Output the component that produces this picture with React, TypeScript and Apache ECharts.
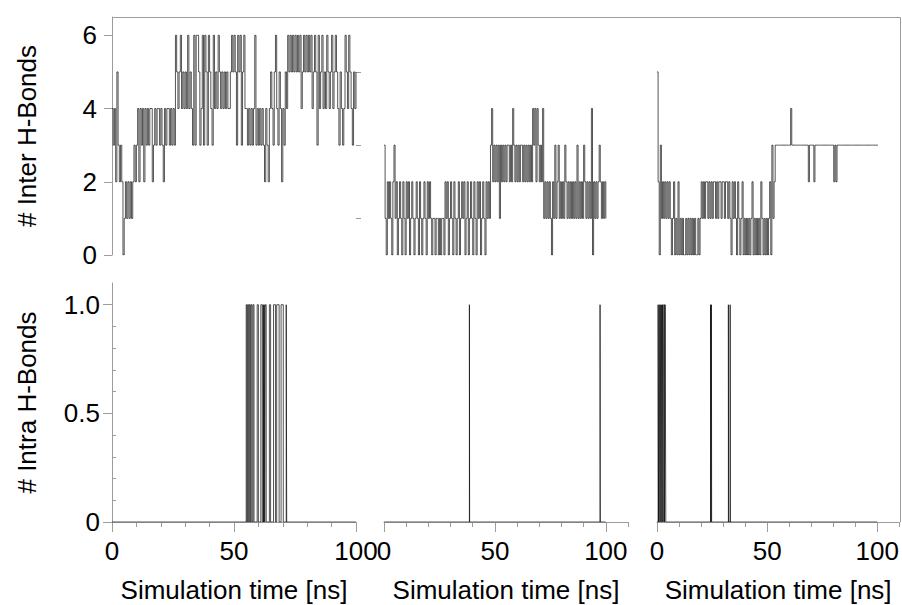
import React, { useEffect, useRef } from 'react';
import * as echarts from 'echarts';

// ---- Data ----
const SAMPLE_STEP_NS = 0.5;

// Inter-molecular H-bond counts, one value every 0.5 ns (0..100 ns)
const INTER_A = [
  4, 3, 4, 2, 5, 3, 2, 3, 2, 0,
  1, 2, 1, 2, 1, 2, 1, 2, 3, 2,
  3, 4, 2, 4, 3, 4, 2, 4, 3, 4,
  3, 4, 4, 2, 3, 4, 3, 4, 4, 3,
  4, 3, 2, 4, 3, 4, 4, 3, 4, 3,
  4, 3, 6, 5, 4, 5, 6, 4, 5, 4,
  5, 4, 6, 4, 5, 4, 3, 6, 3, 6,
  6, 5, 3, 4, 6, 3, 6, 5, 3, 6,
  5, 4, 3, 6, 4, 5, 4, 6, 5, 4,
  5, 4, 5, 4, 5, 4, 4, 5, 6, 5,
  6, 5, 3, 6, 5, 6, 3, 5, 6, 4,
  4, 3, 4, 3, 4, 3, 4, 6, 3, 4,
  3, 4, 3, 4, 3, 2, 4, 3, 2, 4,
  5, 4, 3, 5, 6, 4, 3, 5, 4, 2,
  4, 3, 5, 4, 6, 5, 6, 5, 6, 5,
  6, 5, 6, 5, 6, 4, 5, 6, 5, 6,
  5, 6, 5, 6, 4, 5, 6, 5, 3, 6,
  4, 5, 6, 4, 5, 4, 6, 5, 4, 5,
  6, 4, 5, 6, 5, 4, 3, 5, 4, 3,
  4, 6, 5, 4, 6, 5, 4, 3, 5, 4,
  5,
];

const INTER_B = [
  3, 1, 0, 2, 1, 2, 1, 0, 2, 3,
  1, 2, 0, 1, 2, 1, 0, 2, 1, 0,
  2, 1, 2, 0, 1, 2, 1, 0, 1, 2,
  1, 0, 2, 1, 0, 1, 2, 1, 0, 2,
  1, 2, 1, 0, 1, 1, 0, 1, 1, 0,
  1, 0, 1, 1, 0, 2, 1, 2, 0, 1,
  2, 1, 0, 2, 1, 0, 1, 2, 0, 1,
  2, 1, 2, 0, 1, 2, 0, 1, 2, 1,
  0, 2, 1, 0, 2, 1, 2, 0, 1, 2,
  1, 0, 2, 1, 2, 1, 3, 4, 2, 3,
  2, 3, 2, 3, 1, 3, 2, 3, 2, 3,
  2, 3, 3, 2, 3, 2, 4, 3, 2, 3,
  2, 3, 2, 3, 3, 2, 3, 2, 3, 2,
  3, 2, 3, 2, 4, 3, 4, 2, 4, 3,
  2, 3, 2, 4, 1, 2, 1, 2, 1, 2,
  1, 0, 2, 1, 3, 1, 2, 3, 1, 2,
  1, 2, 1, 3, 2, 1, 2, 1, 2, 1,
  2, 1, 2, 1, 3, 1, 2, 1, 2, 1,
  3, 2, 1, 2, 1, 2, 1, 4, 0, 2,
  1, 2, 1, 2, 3, 2, 1, 2, 1, 2,
  1,
];

const INTER_C = [
  5, 2, 0, 3, 1, 2, 1, 2, 1, 2,
  1, 2, 1, 0, 1, 2, 0, 1, 0, 2,
  0, 1, 0, 1, 0, 0, 1, 0, 1, 0,
  1, 0, 1, 0, 1, 0, 0, 1, 0, 1,
  2, 1, 2, 1, 2, 2, 1, 2, 1, 2,
  1, 2, 2, 1, 2, 1, 2, 2, 1, 2,
  2, 1, 2, 2, 1, 2, 1, 0, 2, 1,
  2, 1, 0, 2, 1, 0, 1, 2, 0, 1,
  0, 1, 0, 1, 0, 1, 2, 0, 1, 0,
  1, 0, 1, 0, 2, 1, 0, 1, 0, 1,
  0, 1, 2, 0, 3, 1, 2, 3, 3, 3,
  3, 3, 3, 3, 3, 3, 3, 3, 3, 3,
  3, 4, 3, 3, 3, 3, 3, 3, 3, 3,
  3, 3, 3, 3, 3, 3, 3, 2, 3, 3,
  3, 3, 2, 3, 3, 3, 3, 3, 3, 3,
  3, 3, 3, 3, 3, 3, 3, 3, 3, 3,
  2, 3, 2, 3, 3, 3, 3, 3, 3, 3,
  3, 3, 3, 3, 3, 3, 3, 3, 3, 3,
  3, 3, 3, 3, 3, 3, 3, 3, 3, 3,
  3, 3, 3, 3, 3, 3, 3, 3, 3, 3,
  3,
];

// Intra-molecular H-bonds: change times (ns) and the value held from that time
const INTRA_A_T = [0, 55.0, 55.3, 55.6, 56.0, 56.3, 56.7, 57.0, 57.4, 57.8, 58.2, 59.5, 60.0, 61.0, 61.6, 62.0, 62.2, 62.4, 62.6, 62.8, 63.2, 64.5, 65.0, 66.2, 67.0, 67.5, 68.5, 69.3, 70.2, 71.4, 71.6, 100];
const INTRA_A_V = [0, 1, 0, 1, 0, 1, 0, 1, 0, 1, 0, 1, 0, 1, 0, 1, 0, 1, 0, 1, 0, 1, 0, 1, 0, 1, 0, 1, 0, 1, 0, 0];
const INTRA_B_T = [0, 38.5, 38.6, 97.4, 97.5, 100];
const INTRA_B_V = [0, 1, 0, 1, 0, 0];
const INTRA_C_T = [0, 0.5, 0.7, 1.0, 1.3, 1.5, 1.8, 2.0, 2.3, 2.5, 2.8, 3.0, 3.4, 3.7, 4.0, 24.3, 24.5, 24.7, 24.8, 32.4, 32.5, 33.2, 33.3, 100];
const INTRA_C_V = [0, 1, 0, 1, 0, 1, 0, 1, 0, 1, 0, 1, 0, 1, 0, 1, 0, 1, 0, 1, 0, 1, 0, 0];

// Ticks / labels
const X_MAJOR_TICKS = [0, 50, 100];
const X_MINOR_TICKS = [10, 20, 30, 40, 60, 70, 80, 90];
const X_MINOR_TICKS_WIDE = [10, 20, 30, 40, 60, 70, 80, 90, 110];
const Y_INTER_MAJOR = [0, 2, 4, 6];
const Y_INTER_MINOR = [1, 3, 5];
const Y_INTRA_MAJOR = [0, 0.5, 1];
const Y_INTRA_MINOR = [0.1, 0.2, 0.3, 0.4, 0.6, 0.7, 0.8, 0.9];
const X_NAME = 'Simulation time [ns]';
const Y_INTER_NAME = '# Inter H-Bonds';
const Y_INTRA_NAME = '# Intra H-Bonds';

// ---- Styling ----
const AXIS_COLOR = '#9c9c9c';
const FONT = '"Liberation Sans", Arial, Helvetica, sans-serif';
const FS = 26;
const LINE_STYLE = { color: '#000', width: 0.9, opacity: 0.75 };

const textStyle = { color: '#000', fontSize: FS, fontFamily: FONT };

function hiddenX(gridIndex: number, max: number) {
  return { type: 'value', gridIndex, min: 0, max, show: false };
}
function hiddenY(gridIndex: number, max: number) {
  return { type: 'value', gridIndex, min: 0, max, show: false };
}
function xMinor(gridIndex: number, max: number, ticks: number[]) {
  return {
    type: 'value', gridIndex, min: 0, max, position: 'bottom',
    axisLine: { show: true, lineStyle: { color: AXIS_COLOR, width: 1 } },
    axisTick: { show: true, length: 5, customValues: ticks, lineStyle: { color: AXIS_COLOR } },
    axisLabel: { show: false },
    splitLine: { show: false },
  };
}
function xMajor(gridIndex: number, max: number) {
  return {
    type: 'value', gridIndex, min: 0, max, position: 'bottom',
    axisLine: { show: false },
    axisTick: { show: true, length: 10, customValues: X_MAJOR_TICKS, lineStyle: { color: AXIS_COLOR } },
    axisLabel: { show: true, customValues: X_MAJOR_TICKS, margin: 16, ...textStyle },
    splitLine: { show: false },
    name: X_NAME, nameLocation: 'middle', nameGap: 55,
    nameTextStyle: { ...textStyle },
  };
}

export default function App() {
  const ref = useRef<HTMLDivElement>(null);

  useEffect(() => {
    if (!ref.current) return;
    const chart = echarts.init(ref.current, null, { renderer: 'svg' });

    const interData = (arr: number[]) => arr.map((v, i) => [i * SAMPLE_STEP_NS, v]);
    const intraData = (t: number[], v: number[]) => t.map((x, i) => [x, v[i]]);

    const lineSeries = (xAxisIndex: number, yAxisIndex: number, data: number[][]) => ({
      type: 'line', xAxisIndex, yAxisIndex, data, step: 'end',
      showSymbol: false, symbol: 'none', lineStyle: LINE_STYLE, silent: true,
    });

    const option: any = {
      animation: false,
      backgroundColor: '#fff',
      grid: [
        { left: 112, top: 17, width: 244, height: 238 },
        { left: 384, top: 17, width: 244, height: 238 },
        { left: 657, top: 17, width: 243, height: 238 },
        { left: 112, top: 283, width: 244, height: 239 },
        { left: 384, top: 283, width: 244, height: 239 },
        { left: 657, top: 283, width: 243, height: 239 },
      ],
      xAxis: [
        hiddenX(0, 100),
        hiddenX(1, 110),
        hiddenX(2, 110),
        xMinor(3, 100, X_MINOR_TICKS),
        xMajor(3, 100),
        xMinor(4, 110, X_MINOR_TICKS_WIDE),
        xMajor(4, 110),
        xMinor(5, 110, X_MINOR_TICKS_WIDE),
        xMajor(5, 110),
      ],
      yAxis: [
        {
          type: 'value', gridIndex: 0, min: 0, max: 6.5,
          axisLine: { show: true, lineStyle: { color: AXIS_COLOR, width: 1 } },
          axisTick: { show: true, length: 8, customValues: Y_INTER_MAJOR, lineStyle: { color: AXIS_COLOR } },
          axisLabel: { show: true, customValues: Y_INTER_MAJOR, margin: 15, ...textStyle },
          splitLine: { show: false },
          name: Y_INTER_NAME, nameLocation: 'middle', nameGap: 72,
          nameTextStyle: { ...textStyle },
        },
        {
          type: 'value', gridIndex: 0, min: 0, max: 6.5,
          axisLine: { show: false },
          axisTick: { show: true, length: 5, customValues: Y_INTER_MINOR, lineStyle: { color: AXIS_COLOR } },
          axisLabel: { show: false },
          splitLine: { show: false },
        },
        hiddenY(1, 6.5),
        hiddenY(2, 6.5),
        {
          type: 'value', gridIndex: 3, min: 0, max: 1.1,
          axisLine: { show: true, lineStyle: { color: AXIS_COLOR, width: 1 } },
          axisTick: { show: true, length: 9, customValues: Y_INTRA_MAJOR, lineStyle: { color: AXIS_COLOR } },
          axisLabel: {
            show: true, customValues: Y_INTRA_MAJOR, margin: 12, ...textStyle,
            formatter: (v: number) => (v === 1 ? '1.0' : String(v)),
          },
          splitLine: { show: false },
          name: Y_INTRA_NAME, nameLocation: 'middle', nameGap: 72,
          nameTextStyle: { ...textStyle },
        },
        {
          type: 'value', gridIndex: 3, min: 0, max: 1.1,
          axisLine: { show: false },
          axisTick: { show: true, length: 4, customValues: Y_INTRA_MINOR, lineStyle: { color: AXIS_COLOR } },
          axisLabel: { show: false },
          splitLine: { show: false },
        },
        hiddenY(4, 1.1),
        hiddenY(5, 1.1),
      ],
      series: [
        lineSeries(0, 0, interData(INTER_A)),
        lineSeries(1, 2, interData(INTER_B)),
        lineSeries(2, 3, interData(INTER_C)),
        lineSeries(3, 4, intraData(INTRA_A_T, INTRA_A_V)),
        lineSeries(5, 6, intraData(INTRA_B_T, INTRA_B_V)),
        lineSeries(7, 7, intraData(INTRA_C_T, INTRA_C_V)),
      ],
      graphic: [
        {
          type: 'polyline', silent: true,
          shape: { points: [[112, 17.5], [900.5, 17.5], [900.5, 522]] },
          style: { stroke: AXIS_COLOR, fill: null, lineWidth: 1 },
        },
      ],
    };

    chart.setOption(option);
    return () => chart.dispose();
  }, []);

  return (
    <div
      ref={ref}
      style={{ position: 'absolute', left: 0, top: 0, width: 902, height: 605, background: '#fff' }}
    />
  );
}
